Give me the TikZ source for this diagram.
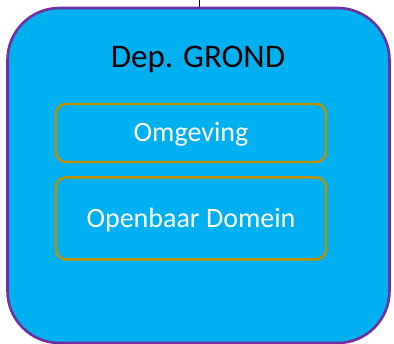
\documentclass[tikz,border=0pt]{standalone}
\usepackage{fontspec}
\setmainfont{Carlito}
\usetikzlibrary{positioning}
\definecolor{depfill}{HTML}{00B0F0}
\definecolor{depline}{HTML}{7030A0}
\definecolor{unitline}{HTML}{BF9000}
\begin{document}
\begin{tikzpicture}[x=1pt, y=-1pt, node distance=13pt]
    % Styles
    \tikzstyle{dept} = [rectangle, rounded corners=52pt, minimum width=382pt, minimum height=335pt, draw=depline, line width=2.6pt, fill=depfill]
    \tikzstyle{unit} = [rectangle, rounded corners=10pt, minimum width=270pt, line width=2.4pt, draw=unitline, text=white, text height=18pt, text depth=0pt, font=\fontsize{28}{34}\selectfont]
    \tikzstyle{title} = [anchor=base, font=\fontsize{33}{40}\selectfont]
    \tikzstyle{link} = [thin, black]

    \useasboundingbox (0,0) rectangle (394,344);

    % Nodes
    \node (grond) [dept] at (198.5,175.5) {};
    \node (grondtitle) [title] at (198,68) {Dep. GROND};
    \node (omgeving) [unit, minimum height=58pt] at (191,133) {Omgeving};
    \node (domein) [unit, minimum height=82pt, below=of omgeving] {Openbaar Domein};
    \coordinate (top) at (199,0);

    % Arrows
    \draw [link] (top) -- (top |- grond.north);
\end{tikzpicture}
\end{document}
